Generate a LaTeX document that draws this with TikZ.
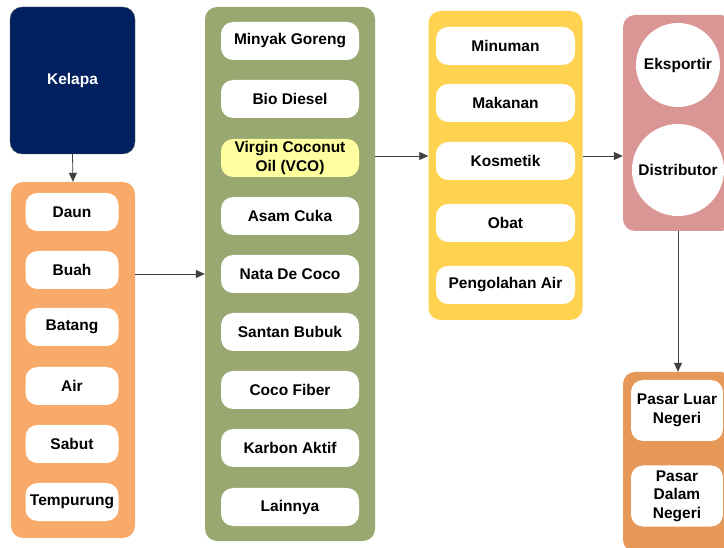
\documentclass[tikz,border=0pt]{standalone}
\usepackage{fontspec}
\setmainfont{Liberation Sans}
\usetikzlibrary{arrows.meta}
\definecolor{navy}{RGB}{0,32,96}
\definecolor{oranye}{RGB}{247,170,105}
\definecolor{oranyetua}{RGB}{230,152,88}
\definecolor{hijau}{RGB}{152,168,112}
\definecolor{kuning}{RGB}{255,210,80}
\definecolor{merahmuda}{RGB}{217,150,148}
\definecolor{kuningmuda}{RGB}{255,255,160}
\begin{document}
\begin{tikzpicture}[x=1pt,y=-1pt,font=\fontsize{15.5}{18.5}\selectfont\bfseries,
  wadah/.style={shape=rectangle,rounded corners=12pt,inner sep=0pt},
  isi/.style={shape=rectangle,rounded corners=12pt,fill=white,inner sep=1pt,align=center,minimum height=38pt},
  isiV/.style={isi,fill=kuningmuda},
  bulat/.style={shape=circle,fill=white,inner sep=0pt},
  panah/.style={draw=black!75,line width=0.8pt,-{Triangle[length=9pt,width=8pt]}}]
\useasboundingbox (0,0) rectangle (724,548);
\clip (0,0) rectangle (724,548);
\def\xa{72};
\def\xb{290};
\def\xc{505.5};
\def\xd{678};

% wadah
\node[wadah,fill=navy,draw=black!60,minimum width=125pt,minimum height=147pt,text=white] (kelapa) at (72.5,80.5) {Kelapa};
\node[wadah,fill=oranye,minimum width=124pt,minimum height=356pt] (bahan) at (73,360) {};
\node[wadah,fill=hijau,minimum width=170pt,minimum height=534pt] (produk) at (\xb,274) {};
\node[wadah,fill=kuning,minimum width=154pt,minimum height=309pt] (guna) at (\xc,165.5) {};
\node[wadah,fill=merahmuda,minimum width=110pt,minimum height=216pt] (pasar) at (\xd,123) {};
\node[wadah,fill=oranyetua,minimum width=110pt,minimum height=180pt] (tujuan) at (\xd,462) {};

% bahan
\node[isi,minimum width=93pt] (daun) at (\xa,212) {Daun};
\node[isi,minimum width=93pt] (buah) at (\xa,270) {Buah};
\node[isi,minimum width=93pt] (batang) at (\xa,327) {Batang};
\node[isi,minimum width=93pt] (air) at (\xa,386) {Air};
\node[isi,minimum width=93pt] (sabut) at (\xa,444) {Sabut};
\node[isi,minimum width=93pt] (tempurung) at (\xa,502) {Tempurung};

% produk
\node[isi,minimum width=138pt] (minyak) at (\xb,41) {Minyak Goreng};
\node[isi,minimum width=138pt] (diesel) at (\xb,99) {Bio Diesel};
\node[isiV,minimum width=138pt] (vco) at (\xb,158) {Virgin Coconut\\Oil (VCO)};
\node[isi,minimum width=138pt] (cuka) at (\xb,216) {Asam Cuka};
\node[isi,minimum width=138pt] (nata) at (\xb,274) {Nata De Coco};
\node[isi,minimum width=138pt] (santan) at (\xb,332) {Santan Bubuk};
\node[isi,minimum width=138pt] (fiber) at (\xb,390) {Coco Fiber};
\node[isi,minimum width=138pt] (karbon) at (\xb,448) {Karbon Aktif};
\node[isi,minimum width=138pt] (lainnya) at (\xb,507) {Lainnya};

% guna
\node[isi,minimum width=139pt] (minuman) at (\xc,46) {Minuman};
\node[isi,minimum width=139pt] (makanan) at (\xc,103) {Makanan};
\node[isi,minimum width=139pt] (kosmetik) at (\xc,161) {Kosmetik};
\node[isi,minimum width=139pt] (obat) at (\xc,223) {Obat};
\node[isi,minimum width=139pt] (olahair) at (\xc,285) {Pengolahan Air};

% pasar
\node[bulat,minimum size=84pt] (ekspor) at (\xd,65) {Eksportir};
\node[bulat,minimum size=92pt] (distributor) at (\xd,170) {Distributor};
\node[isi,minimum width=92pt,minimum height=61pt] (luar) at (677,410.5) {Pasar Luar\\Negeri};
\node[isi,minimum width=92pt,minimum height=61pt] (dalam) at (677,496) {Pasar\\Dalam\\Negeri};

% panah
\draw[panah] (kelapa.south) -- (bahan.north);
\draw[panah] (bahan.east |- nata) -- (produk.west |- nata);
\draw[panah] ([yshift=2pt]produk.east |- vco) -- ([yshift=2pt]guna.west |- vco);
\draw[panah] ([yshift=5pt]guna.east |- kosmetik) -- ([yshift=5pt]pasar.west |- kosmetik);
\draw[panah] (pasar.south) -- (tujuan.north);
\end{tikzpicture}
\end{document}
